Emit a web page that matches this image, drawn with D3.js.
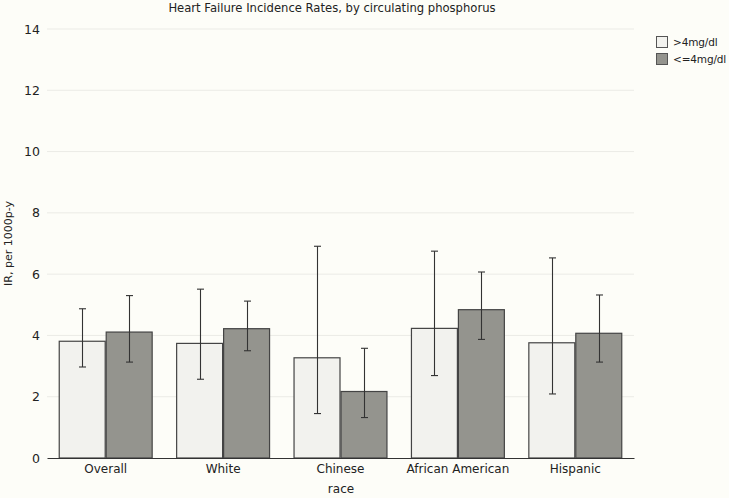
<!DOCTYPE html>
<html><head><meta charset="utf-8">
<script src="https://cdn.jsdelivr.net/npm/d3@7"></script>
<style>body{margin:0;background:#fdfdf8}svg{display:block}text{font-family:"DejaVu Sans",Verdana,sans-serif;fill:#222}</style>
</head><body><svg id="c" width="729" height="498"></svg>
<script>
const categories = ["Overall","White","Chinese","African American","Hispanic"];
const seriesNames = [">4mg/dl","<=4mg/dl"];
const highValues = [3.81,3.74,3.27,4.23,3.76];
const highLower = [2.97,2.57,1.45,2.69,2.09];
const highUpper = [4.87,5.51,6.91,6.75,6.53];
const lowValues = [4.11,4.22,2.17,4.84,4.07];
const lowLower = [3.13,3.50,1.32,3.87,3.13];
const lowUpper = [5.30,5.12,3.58,6.07,5.32];
const yTicks = [0,2,4,6,8,10,12,14];
const colors = ["#f2f2ee","#94948e"];

const svg = d3.select("#c");
svg.append("rect").attr("width",729).attr("height",498).attr("fill","#fdfdf8");
const L=47,R=634,T=29,B=458;
const y = d3.scaleLinear().domain([0,14]).range([B,T]);
const x = d3.scaleBand().domain(categories).range([L,R]).paddingInner(0.2).paddingOuter(0.1);
const xs = d3.scaleBand().domain(seriesNames).range([0,x.bandwidth()]);

svg.append("g").selectAll("line").data(yTicks.filter(d=>d>0)).join("line")
  .attr("x1",L).attr("x2",R).attr("y1",d=>y(d)).attr("y2",d=>y(d))
  .attr("stroke","#ebebe6").attr("stroke-width",1);
const ya = svg.append("g").attr("transform",`translate(${L},0)`)
  .call(d3.axisLeft(y).tickValues(yTicks).tickSize(0).tickPadding(7));
ya.select(".domain").remove();
ya.selectAll("text").attr("font-size",12.5).style("font-family","DejaVu Sans, Verdana, sans-serif").attr("fill","#222");

const data = categories.map((c,i)=>[
  {c,s:seriesNames[0],v:highValues[i],lo:highLower[i],hi:highUpper[i],col:colors[0]},
  {c,s:seriesNames[1],v:lowValues[i],lo:lowLower[i],hi:lowUpper[i],col:colors[1]}]).flat();

svg.append("g").selectAll("rect").data(data).join("rect")
  .attr("x",d=>x(d.c)+xs(d.s)+0.5).attr("y",d=>y(d.v))
  .attr("width",xs.bandwidth()-1).attr("height",d=>y(0)-y(d.v))
  .attr("fill",d=>d.col).attr("stroke","#444").attr("stroke-width",1.2);

const eb = svg.append("g").attr("stroke","#333").attr("stroke-width",1.1);
data.forEach(d=>{
  const cx = Math.round(x(d.c)+xs(d.s)+xs.bandwidth()/2)+0.5;
  eb.append("line").attr("x1",cx).attr("x2",cx).attr("y1",y(d.lo)).attr("y2",y(d.hi));
  eb.append("line").attr("x1",cx-3.5).attr("x2",cx+3.5).attr("y1",y(d.lo)).attr("y2",y(d.lo));
  eb.append("line").attr("x1",cx-3.5).attr("x2",cx+3.5).attr("y1",y(d.hi)).attr("y2",y(d.hi));
});

const xa = svg.append("g").attr("transform",`translate(0,${B})`)
  .call(d3.axisBottom(x).tickSize(0).tickPadding(6));
xa.select(".domain").attr("stroke","#333").attr("stroke-width",1.2);
xa.selectAll("text").attr("font-size",12).style("font-family","DejaVu Sans, Verdana, sans-serif").attr("fill","#222");

svg.append("text").attr("x",341).attr("y",493).attr("text-anchor","middle").attr("font-size",12).text("race");
svg.append("text").attr("transform",`translate(12,${(T+B)/2}) rotate(-90)`).attr("text-anchor","middle").attr("font-size",11).text("IR, per 1000p-y");
svg.append("text").attr("x",332).attr("y",12).attr("text-anchor","middle").attr("font-size",11.6).text("Heart Failure Incidence Rates, by circulating phosphorus");

const lg = svg.append("g").attr("transform","translate(656,36)");
seriesNames.forEach((s,i)=>{
  lg.append("rect").attr("x",0.5).attr("y",i*17+0.5).attr("width",11).attr("height",11).attr("fill",colors[i]).attr("stroke","#555");
  lg.append("text").attr("x",17).attr("y",i*17+10).attr("font-size",10.5).attr("letter-spacing",-0.15).text(s);
});
</script></body></html>
